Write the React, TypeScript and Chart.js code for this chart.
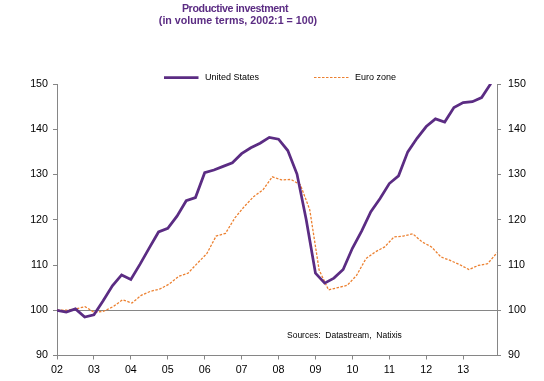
import React, { useEffect, useRef } from 'react';
import { Chart, registerables } from 'chart.js';

Chart.register(...registerables);

const TITLE_LINES = ['Productive investment', '(in volume terms, 2002:1 = 100)'];
const SERIES_NAMES = ['United States', 'Euro zone'];
const SOURCE_TEXT = 'Sources:  Datastream,  Natixis';
const YEAR_LABELS = ['02', '03', '04', '05', '06', '07', '08', '09', '10', '11', '12', '13'];
const YEARS = [2002, 2003, 2004, 2005, 2006, 2007, 2008, 2009, 2010, 2011, 2012, 2013];
const QUARTER_NAMES = ['Q1', 'Q2', 'Q3', 'Q4'];
const QUARTERS = YEARS.flatMap((y) => QUARTER_NAMES.map((q) => `${y}${q}`));

const US_VALUES = [
  100, 99.6, 100.3, 98.5, 99.0, 102.1, 105.4, 107.8, 106.8, 110.2, 113.8, 117.3,
  118.1, 120.8, 124.2, 124.9, 130.4, 131.0, 131.8, 132.6, 134.6, 135.9, 136.9, 138.2,
  137.8, 135.3, 130.1, 120.0, 108.2, 106.0, 107.1, 109.0, 113.7, 117.5, 121.8, 124.7,
  128.0, 129.7, 135.0, 138.0, 140.6, 142.3, 141.6, 144.8, 145.9, 146.1, 147.0, 150.1,
];
const EZ_VALUES = [
  100, 100, 100.3, 100.8, 99.5, 99.8, 100.8, 102.3, 101.6, 103.3, 104.2, 104.7,
  105.8, 107.5, 108.2, 110.4, 112.5, 116.4, 117.0, 120.4, 122.9, 125.1, 126.6, 129.5,
  128.8, 128.9, 127.7, 122.2, 108.9, 104.5, 105.0, 105.5, 107.7, 111.4, 112.9, 114.0,
  116.2, 116.4, 116.9, 115.1, 114.0, 111.8, 111.0, 110.1, 109.0, 109.9, 110.3, 112.7,
];

const Y_MIN = 90;
const Y_MAX = 150;
const Y_STEP = 10;
const BASE_VALUE = 100;
// date axis in months since Jan 2002, up to Dec 2013
const X_MONTH_MAX = 143;

const PURPLE = '#5B2C83';
const ORANGE = '#EC8030';
const AXIS_GREY = '#868686';
const FONT = '"Liberation Sans", Arial, sans-serif';

function quarterToMonth(label: string): number {
  const y = parseInt(label.slice(0, 4), 10);
  const q = parseInt(label.slice(5), 10);
  return (y - YEARS[0]) * 12 + (q - 1) * 3;
}

const overlayPlugin = {
  id: 'overlay',
  afterDraw(chart: any) {
    const { ctx, chartArea } = chart;
    ctx.save();
    // Title
    ctx.fillStyle = PURPLE;
    ctx.textAlign = 'center';
    ctx.textBaseline = 'middle';
    ctx.font = `bold 10.7px ${FONT}`;
    try { (ctx as any).letterSpacing = '-0.4px'; } catch (e) {}
    ctx.fillText(TITLE_LINES[0], 235, 9.5);
    try { (ctx as any).letterSpacing = '0px'; } catch (e) {}
    ctx.fillText(TITLE_LINES[1], 238, 21.5);

    // Legend
    const ly = chartArea.top - 6.5;
    ctx.font = `9px ${FONT}`;
    ctx.textAlign = 'left';
    ctx.fillStyle = '#000';
    ctx.strokeStyle = PURPLE;
    ctx.lineWidth = 2.75;
    ctx.setLineDash([]);
    ctx.beginPath();
    ctx.moveTo(164, ly);
    ctx.lineTo(198.5, ly);
    ctx.stroke();
    ctx.fillText(SERIES_NAMES[0], 205, ly);
    ctx.strokeStyle = ORANGE;
    ctx.lineWidth = 1.2;
    ctx.setLineDash([2.5, 1.5]);
    ctx.beginPath();
    ctx.moveTo(314, ly);
    ctx.lineTo(349.5, ly);
    ctx.stroke();
    ctx.setLineDash([]);
    ctx.fillText(SERIES_NAMES[1], 355, ly);

    // Source
    ctx.font = `8.5px ${FONT}`;
    ctx.fillText(SOURCE_TEXT, 287, 335.5);
    ctx.restore();
  },
};

export default function App() {
  const canvasRef = useRef<HTMLCanvasElement | null>(null);

  useEffect(() => {
    if (!canvasRef.current) return;
    const usPoints = QUARTERS.map((q, i) => ({ x: quarterToMonth(q), y: US_VALUES[i] }));
    const tickFont = { family: FONT, size: 10.7 };
    const chart = new Chart(canvasRef.current, {
      type: 'line',
      data: {
        labels: QUARTERS,
        datasets: [
          {
            label: SERIES_NAMES[0],
            data: usPoints as any,
            xAxisID: 'x',
            yAxisID: 'y',
            borderColor: PURPLE,
            backgroundColor: PURPLE,
            borderWidth: 2.75,
            pointRadius: 0,
            tension: 0,
            order: 1,
          },
          {
            label: SERIES_NAMES[1],
            data: EZ_VALUES,
            xAxisID: 'x2',
            yAxisID: 'y2',
            borderColor: ORANGE,
            backgroundColor: ORANGE,
            borderWidth: 1.3,
            borderDash: [2.5, 1.5],
            pointRadius: 0,
            tension: 0,
            order: 2,
          },
        ],
      },
      options: {
        animation: false,
        responsive: true,
        maintainAspectRatio: false,
        layout: { padding: { top: 84, bottom: 0, left: 0, right: 0 } },
        plugins: {
          legend: { display: false },
          title: { display: false },
          tooltip: { enabled: false },
        },
        scales: {
          x: {
            type: 'linear',
            position: 'bottom',
            min: 0,
            max: X_MONTH_MAX,
            afterFit: (s: any) => { s.height = 25.5; },
            afterBuildTicks: (s: any) => {
              s.ticks = s.ticks.filter((t: any) => t.value % 12 === 0);
            },
            ticks: {
              stepSize: 12,
              autoSkip: false,
              maxRotation: 0,
              padding: 4,
              color: '#000',
              font: tickFont,
              callback: (v: any) => YEAR_LABELS[Math.round(Number(v) / 12)] ?? '',
            },
            grid: {
              display: true,
              drawOnChartArea: false,
              drawTicks: true,
              tickLength: 4,
              color: AXIS_GREY,
            },
            border: { display: true, color: AXIS_GREY, width: 1 },
          },
          x2: {
            type: 'category',
            labels: QUARTERS,
            display: false,
            offset: false,
          },
          y: {
            position: 'left',
            min: Y_MIN,
            max: Y_MAX,
            afterFit: (s: any) => { s.width = 57; },
            ticks: { stepSize: Y_STEP, padding: 5, color: '#000', font: tickFont },
            grid: {
              display: true,
              drawOnChartArea: false,
              drawTicks: true,
              tickLength: 4,
              color: AXIS_GREY,
            },
            border: { display: true, color: AXIS_GREY, width: 1 },
          },
          y2: {
            position: 'right',
            min: Y_MIN,
            max: Y_MAX,
            afterFit: (s: any) => { s.width = 47; },
            ticks: { stepSize: Y_STEP, padding: 7, color: '#000', font: tickFont },
            grid: {
              display: true,
              drawOnChartArea: true,
              drawTicks: true,
              tickLength: 4,
              color: (c: any) => (c.tick && c.tick.value === BASE_VALUE ? AXIS_GREY : 'rgba(0,0,0,0)'),
              tickColor: AXIS_GREY,
            },
            border: { display: true, color: AXIS_GREY, width: 1 },
          },
        },
      } as any,
      plugins: [overlayPlugin],
    });
    return () => chart.destroy();
  }, []);

  return (
    <div style={{ position: 'fixed', left: 0, top: 0, width: 544, height: 381, background: '#fff' }}>
      <canvas ref={canvasRef} />
    </div>
  );
}
